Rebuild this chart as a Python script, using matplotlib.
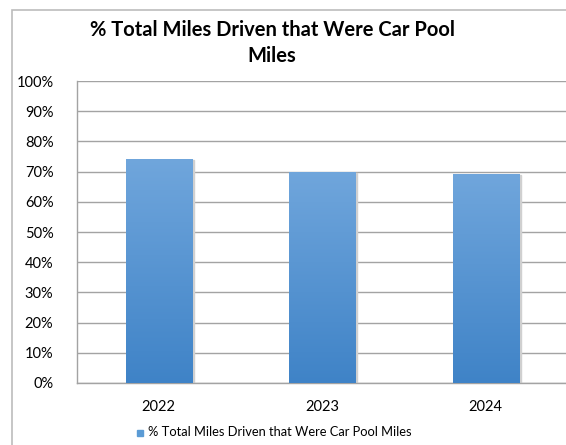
import matplotlib.pyplot as plt
import numpy as np
from matplotlib.patches import Rectangle

years = ["2022", "2023", "2024"]
share = [0.742, 0.70, 0.692]
title = "% Total Miles Driven that Were Car Pool\nMiles"
series_name = "% Total Miles Driven that Were Car Pool Miles"

plt.rcParams['font.family'] = ['Lato', 'DejaVu Sans']

fig = plt.figure(figsize=(5.66, 4.45), dpi=100)

# outer chart border (cropped on the right and bottom)
fig.patches.append(Rectangle((12 / 566, -0.1), 1.2, (440 - 5) / 445 + 0.1,
                             transform=fig.transFigure, fill=False,
                             edgecolor="#bcbcbc", linewidth=1.2))

ax = fig.add_axes([77 / 566, 62 / 445, 490.5 / 566, 302 / 445])
x = np.arange(len(years))
bars = ax.bar(x, share, width=0.405, color="#5b9bd5", zorder=3)

# vertical gradient inside each bar, plus a soft shadow
grad = np.linspace(0, 1, 256).reshape(-1, 1)
cmap = plt.matplotlib.colors.LinearSegmentedColormap.from_list(
    "barg", ["#3f83c7", "#70a6dc"])
for b in bars:
    x0, w, h = b.get_x(), b.get_width(), b.get_height()
    ax.add_patch(Rectangle((x0 + 0.012, 0), w, h - 0.004, color="#d0d0d0",
                           zorder=2))
    im = ax.imshow(grad, extent=(x0, x0 + w, 0, h), origin="lower",
                   cmap=cmap, aspect="auto", zorder=4)
    im.set_clip_path(b)

ax.set_xlim(-0.5, 2.5)
ax.set_ylim(0, 1.0)
ax.set_yticks(np.arange(0, 1.01, 0.1))
ax.set_yticklabels([f"{int(round(v * 100))}%" for v in np.arange(0, 1.01, 0.1)])
ax.set_xticks(x)
ax.set_xticklabels(years)
ax.tick_params(axis="both", length=0, labelsize=10.5, colors="black")
ax.tick_params(axis="y", pad=17)
ax.tick_params(axis="x", pad=12)
ax.grid(axis="y", color="#a3a3a3", linewidth=1.0, zorder=0)
for s in ["top", "right"]:
    ax.spines[s].set_visible(False)
for s in ["left", "bottom"]:
    ax.spines[s].set_color("#a3a3a3")
    ax.spines[s].set_linewidth(1.0)

fig.text(272 / 566, 1 - 43 / 445, title, ha="center", va="center",
         fontsize=14.5, fontweight="bold", linespacing=1.4)

# legend
fig.patches.append(Rectangle((137 / 566, 1 - 436 / 445), 6 / 566, 6 / 445,
                             transform=fig.transFigure, color="#5b9bd5"))
fig.text(148 / 566, 1 - 432 / 445, series_name, ha="left", va="center",
         fontsize=9.3)

fig.savefig("out.png", dpi=100)
